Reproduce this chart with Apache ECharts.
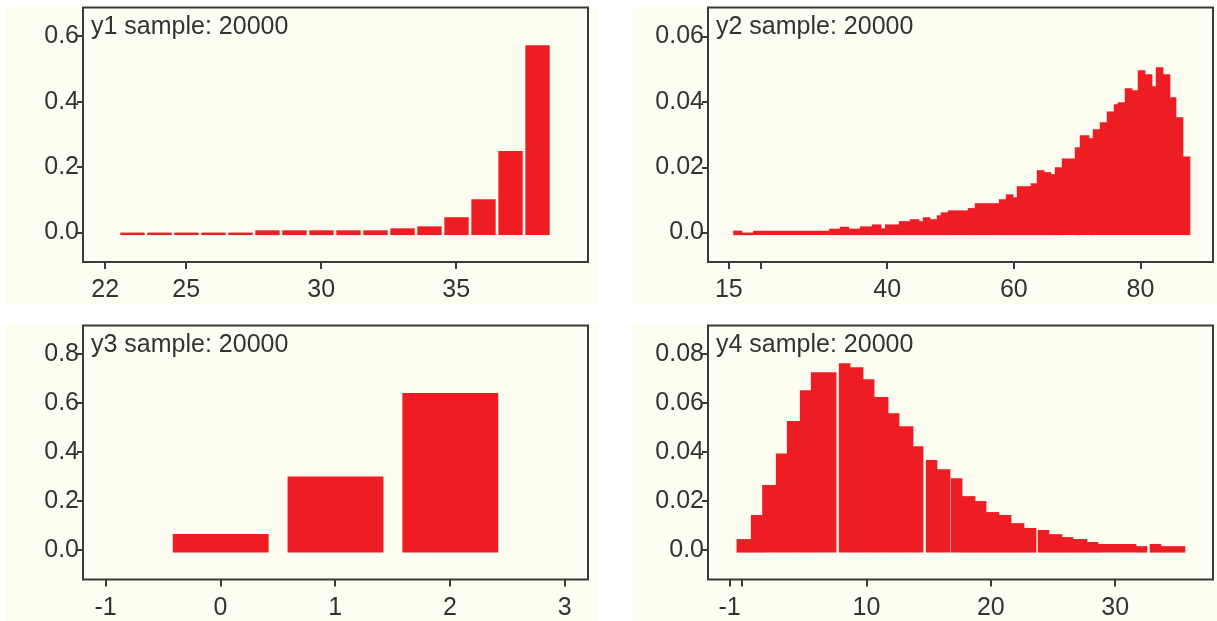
<!DOCTYPE html>
<html>
<head>
<meta charset="utf-8">
<script src="https://cdn.jsdelivr.net/npm/echarts@6/dist/echarts.min.js"></script>
<style>
html,body{margin:0;padding:0;background:#ffffff;}
#chart{width:1217px;height:621px;}
</style>
</head>
<body>
<div id="chart"></div>
<script>
// ---------- data ----------
const titles = ['y1 sample: 20000', 'y2 sample: 20000', 'y3 sample: 20000', 'y4 sample: 20000'];

// y1: integer categories
const y1X = [23, 24, 25, 26, 27, 28, 29, 30, 31, 32, 33, 34, 35, 36, 37, 38];
const y1Dens = [0, 0, 0, 0, 0, 0.007, 0.007, 0.007, 0.007, 0.007, 0.013, 0.019, 0.047, 0.102, 0.249, 0.572];

// y2: histogram bin edges and densities
const y2Edges = [15.69, 17.02, 18.85, 30.84, 32.53, 33.91, 35.69, 37.58, 39.01, 39.64, 41.85, 43.58, 45.0, 45.63, 46.73, 47.83,
  48.47, 49.58, 52.74, 53.84, 57.63, 58.74, 59.84, 60.47, 62.68, 63.63, 64.74, 65.84, 66.47, 67.58, 69.63, 70.42, 71.84,
  72.47, 73.58, 74.68, 75.79, 76.42, 77.52, 78.63, 79.58, 80.69, 81.79, 82.42, 83.53, 84.63, 85.58, 86.68, 87.79];
const y2Dens = [0.0006, 0.0, 0.0006, 0.0012, 0.0018, 0.0012, 0.0019, 0.0025, 0.0013, 0.0025, 0.0035, 0.0041, 0.0035, 0.0047, 0.0041,
  0.0053, 0.0062, 0.0068, 0.0075, 0.0090, 0.0102, 0.0117, 0.0108, 0.0142, 0.0151, 0.0191, 0.0185, 0.0179, 0.0200, 0.0227,
  0.0261, 0.0298, 0.0289, 0.0316, 0.0338, 0.0371, 0.0393, 0.0399, 0.0442, 0.0436, 0.0497, 0.0485, 0.0448, 0.0506, 0.0485,
  0.0414, 0.0353, 0.0233];

// y3: integer categories
const y3X = [0, 1, 2];
const y3Dens = [0.065, 0.300, 0.640];

// y4: histogram bars (left edge, right edge, density)
const y4Left = [-0.445, 0.707, 1.618, 2.717, 3.601, 4.646, 5.531, 7.781, 8.666, 9.711, 10.595, 11.720, 12.605, 13.730, 14.775, 15.659,
  16.785, 17.669, 18.714, 19.598, 20.643, 21.608, 22.653, 23.778, 24.662, 25.707, 26.592, 27.717, 28.601, 31.656, 32.781, 33.666];
const y4Right = [0.707, 1.618, 2.717, 3.601, 4.646, 5.531, 7.540, 8.666, 9.711, 10.595, 11.720, 12.605, 13.730, 14.534, 15.659, 16.704,
  17.669, 18.714, 19.598, 20.643, 21.608, 22.653, 23.618, 24.662, 25.707, 26.592, 27.717, 28.601, 31.656, 32.540, 33.666, 35.595];
const y4Dens = [0.0045, 0.0143, 0.0265, 0.0394, 0.0526, 0.0652, 0.0725, 0.0762, 0.0746, 0.0697, 0.0624, 0.0558, 0.0505, 0.0424,
  0.0367, 0.0330, 0.0293, 0.0220, 0.0200, 0.0155, 0.0143, 0.0110, 0.0090, 0.0082, 0.0065, 0.0053, 0.0045, 0.0033, 0.0025, 0.0016,
  0.0025, 0.0016];

// axis ticks
const x1Ticks = [22, 25, 30, 35];
const x2Ticks = [15, 20, 40, 60, 80];
const x2Labels = [15, 40, 60, 80];
const x3Ticks = [-1, 0, 1, 2, 3];
const x4Ticks = [-1, 0, 10, 20, 30];
const x4Labels = [-1, 10, 20, 30];
const y1Ticks = [0, 0.2, 0.4, 0.6];
const y2Ticks = [0, 0.02, 0.04, 0.06];
const y3Ticks = [0, 0.2, 0.4, 0.6, 0.8];
const y4Ticks = [0, 0.02, 0.04, 0.06, 0.08];

// ---------- build ----------
const RED = '#ee1d24';
const AX = '#3a3a3a';
const TXT = '#333333';
const FONT = "'Liberation Sans', Arial, sans-serif";
const FS = 25;

function centered(xs, ds, w) {
  return xs.map((x, i) => [x - w / 2, x + w / 2, ds[i]]);
}
const d1 = centered(y1X, y1Dens, 0.88);
const d2 = y2Dens.map((v, i) => [y2Edges[i], y2Edges[i + 1], v]);
const d3 = centered(y3X, y3Dens, 0.83);
const d4 = y4Dens.map((v, i) => [y4Left[i], y4Right[i], v]);

function renderBar(params, api) {
  const l = api.value(0), r = api.value(1), v = api.value(2);
  const p0 = api.coord([l, v]);
  const p1 = api.coord([r, 0]);
  return {
    type: 'rect',
    shape: { x: p0[0], y: p0[1], width: p1[0] - p0[0] + 0.6, height: p1[1] - p0[1] + 2.5 },
    style: { fill: RED }
  };
}

const grids = [
  { left: 83, top: 7.5, width: 505, height: 254.5 },
  { left: 708, top: 7.5, width: 505, height: 254.5 },
  { left: 83, top: 325.5, width: 505, height: 254 },
  { left: 708, top: 325.5, width: 505, height: 254 }
];
grids.forEach(g => { g.show = true; g.borderColor = AX; g.borderWidth = 2; g.backgroundColor = 'transparent'; g.containLabel = false; });

const xr = [[21.18, 39.88], [11.71, 91.46], [-1.197, 3.202], [-2.74, 37.87]];
const yr = [[-0.0899, 0.6877], [-0.0090, 0.0689], [-0.1202, 0.9157], [-0.0120, 0.0916]];
const xt = [x1Ticks, x2Ticks, x3Ticks, x4Ticks];
const xl = [x1Ticks, x2Labels, x3Ticks, x4Labels];
const yt = [y1Ticks, y2Ticks, y3Ticks, y4Ticks];
const yfmt = [
  v => v.toFixed(1),
  v => (v === 0 ? '0.0' : v.toFixed(2)),
  v => v.toFixed(1),
  v => (v === 0 ? '0.0' : v.toFixed(2))
];

const xAxes = [], yAxes = [], series = [], titleArr = [];
const datas = [d1, d2, d3, d4];
for (let i = 0; i < 4; i++) {
  xAxes.push({
    type: 'value', gridIndex: i, min: xr[i][0], max: xr[i][1], position: 'bottom',
    axisLine: { show: false, onZero: false },
    splitLine: { show: false },
    axisTick: { show: true, inside: false, length: 7, lineStyle: { color: AX, width: 2 }, customValues: xt[i] },
    axisLabel: { show: true, margin: 16, fontSize: FS, color: TXT, fontFamily: FONT, customValues: xl[i],
      formatter: v => String(v), hideOverlap: false }
  });
  yAxes.push({
    type: 'value', gridIndex: i, min: yr[i][0], max: yr[i][1], position: 'left',
    axisLine: { show: false, onZero: false },
    splitLine: { show: false },
    axisTick: { show: true, inside: false, length: 6, lineStyle: { color: AX, width: 2 }, customValues: yt[i] },
    axisLabel: { show: true, margin: 4, fontSize: FS, color: TXT, fontFamily: FONT, customValues: yt[i],
      formatter: yfmt[i], hideOverlap: false }
  });
  series.push({
    type: 'custom', xAxisIndex: i, yAxisIndex: i,
    renderItem: renderBar,
    encode: { x: [0, 1], y: 2 },
    data: datas[i],
    silent: true, animation: false
  });
  titleArr.push({
    text: titles[i], left: grids[i].left + 8, top: grids[i].top + 7, padding: 0,
    textStyle: { fontSize: FS, fontWeight: 'normal', color: TXT, fontFamily: FONT }
  });
}

const bgRects = [
  [6, 6.7, 592, 298.3],
  [632, 6.7, 585, 298.3],
  [6, 324, 592, 297],
  [632, 324, 585, 297]
].map(r => ({ type: 'rect', shape: { x: r[0], y: r[1], width: r[2], height: r[3] }, style: { fill: '#fdfdf1' }, z: -10, silent: true }));

const chart = echarts.init(document.getElementById('chart'), null, { renderer: 'canvas' });
chart.setOption({
  animation: false,
  backgroundColor: '#ffffff',
  graphic: { elements: bgRects },
  title: titleArr,
  grid: grids,
  xAxis: xAxes,
  yAxis: yAxes,
  series: series
});
</script>
</body>
</html>
